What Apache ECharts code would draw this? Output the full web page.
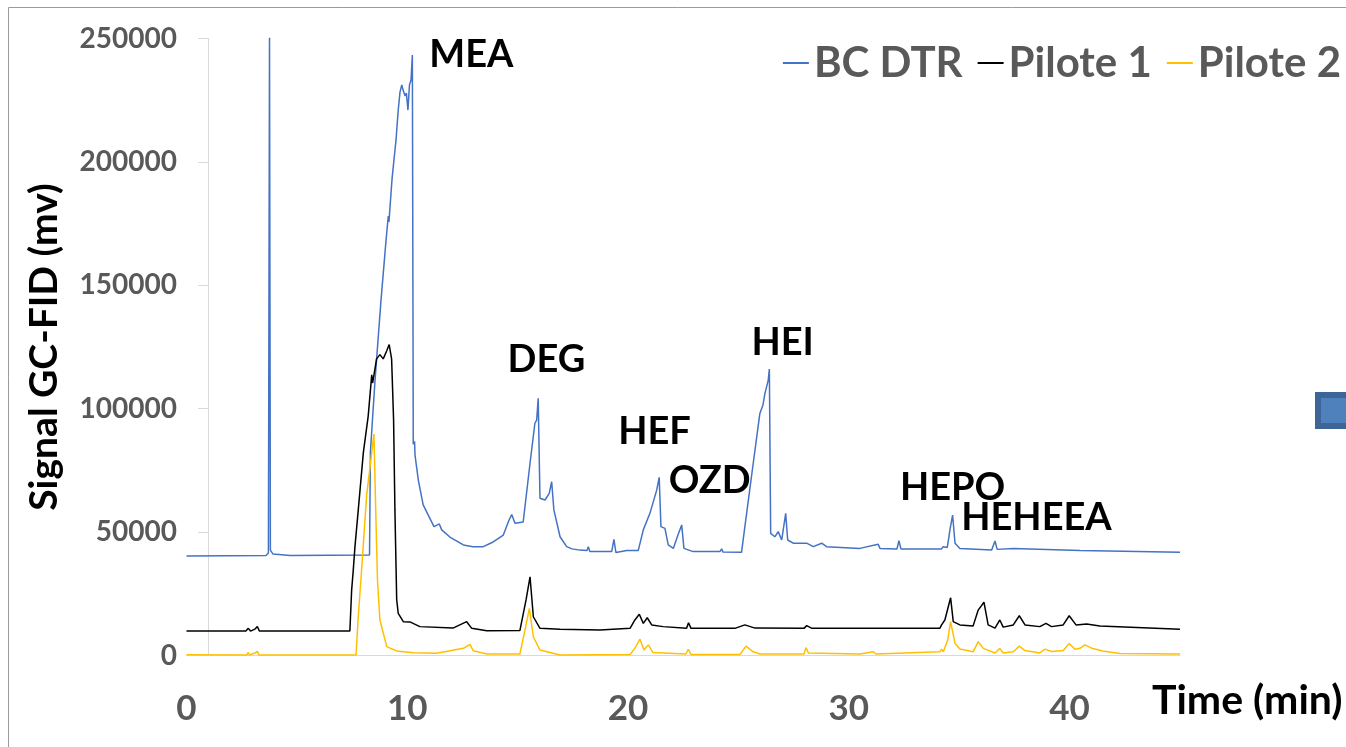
<!DOCTYPE html>
<html>
<head>
<meta charset="utf-8">
<title>GC-FID</title>
<script src="https://cdn.jsdelivr.net/npm/echarts@6/dist/echarts.min.js"></script>
<style>
  html, body { margin: 0; padding: 0; background: #fff; }
  #chart { width: 1346px; height: 747px; }
</style>
</head>
<body>
<div id="chart"></div>
<script>
// retention time (min) and signal (mv)
var bcTime = [0, 3.6, 3.71, 3.76, 3.8, 3.92, 4.69, 8.29, 8.33, 8.54, 8.81, 9.04, 9.14, 9.17, 9.31, 9.49, 9.59, 9.67, 9.75, 9.81, 9.9, 9.96, 10.03, 10.1, 10.17, 10.23, 10.26, 10.27, 10.33, 10.35, 10.5, 10.72, 10.95, 11.21, 11.45, 11.56, 11.93, 12.54, 12.98, 13.44, 13.89, 14.35, 14.61, 14.73, 14.88, 15.25, 15.56, 15.78, 15.86, 15.93, 15.99, 16.01, 16.24, 16.43, 16.54, 16.64, 16.92, 17.22, 17.46, 17.82, 18.14, 18.2, 18.27, 18.8, 19.26, 19.36, 19.45, 19.94, 20.46, 20.69, 20.99, 21.3, 21.41, 21.49, 21.67, 21.82, 22.05, 22.26, 22.43, 22.53, 22.95, 24.16, 24.24, 24.3, 25.14, 25.37, 25.67, 25.97, 26.11, 26.2, 26.35, 26.4, 26.46, 26.65, 26.8, 26.96, 27.14, 27.23, 27.48, 28.09, 28.39, 28.77, 28.99, 30.5, 31.33, 31.41, 32.18, 32.27, 32.36, 34.2, 34.27, 34.46, 34.58, 34.7, 34.81, 35.03, 36.47, 36.62, 36.72, 37.45, 40.47, 45];
var bcSignal = [40300, 40500, 41500, 251000, 42700, 41100, 40500, 40700, 82500, 111600, 144000, 168400, 178100, 175700, 193100, 208900, 221000, 228300, 231200, 229100, 226700, 227900, 221000, 231200, 233200, 243300, 131900, 85600, 86800, 81200, 71100, 61000, 56900, 52200, 53300, 50900, 48000, 44800, 44100, 44100, 46000, 48800, 54900, 57100, 53600, 54100, 77900, 94100, 95400, 104200, 103500, 63700, 63000, 65700, 70400, 59000, 48100, 44100, 43200, 42700, 42500, 44100, 42100, 42100, 42100, 47100, 41700, 42500, 42500, 50900, 57600, 67100, 72200, 52200, 51500, 44800, 43400, 48800, 52900, 43400, 42100, 42100, 43200, 41900, 41800, 57600, 77900, 98100, 101500, 106200, 111600, 116100, 49500, 48100, 50200, 46800, 57600, 46800, 45500, 45500, 44100, 45500, 44100, 43400, 45100, 43400, 43200, 46500, 43200, 43200, 44100, 43800, 50900, 56900, 45500, 43400, 42700, 46400, 43000, 43400, 42500, 41800];

var p1Time = [0, 2.69, 2.8, 2.9, 3.1, 3.21, 3.3, 7.4, 7.48, 7.55, 7.63, 7.78, 8.01, 8.23, 8.39, 8.43, 8.61, 8.76, 8.91, 9.07, 9.18, 9.29, 9.38, 9.44, 9.52, 9.59, 9.82, 10.12, 10.57, 12.07, 12.69, 12.77, 12.92, 13.6, 15.1, 15.38, 15.56, 15.71, 16.01, 16.92, 18.73, 20.09, 20.31, 20.51, 20.69, 20.87, 21.07, 21.59, 22.65, 22.74, 22.85, 24.84, 25.29, 25.75, 27.97, 28.09, 28.33, 30.5, 34.12, 34.2, 34.35, 34.61, 34.73, 35.03, 35.63, 35.86, 36.12, 36.31, 36.62, 36.84, 36.99, 37.45, 37.72, 37.98, 38.65, 38.93, 39.18, 39.71, 39.98, 40.29, 40.77, 41.37, 45];
var p1Signal = [9900, 9900, 11000, 9900, 10700, 11700, 9900, 9900, 26500, 34200, 44100, 59000, 82200, 97000, 113700, 110400, 120200, 121900, 120200, 123500, 126000, 120200, 95400, 59000, 22700, 17100, 13700, 13600, 11700, 11100, 13700, 14400, 11000, 10000, 10100, 22500, 31900, 15700, 11000, 10600, 10300, 11000, 14400, 16700, 13000, 15300, 12400, 11700, 11000, 13300, 11000, 11000, 12400, 11100, 11000, 12100, 11000, 11000, 11000, 12400, 14400, 23400, 13700, 12400, 12000, 18400, 21600, 12400, 11100, 14400, 11500, 12400, 16100, 12400, 11700, 13000, 11700, 12400, 16100, 12400, 12800, 12000, 10600];

var p2Time = [0, 2.72, 2.8, 2.85, 3.1, 3.21, 3.28, 7.68, 7.77, 7.93, 8.16, 8.39, 8.49, 8.57, 8.65, 8.76, 9.07, 9.52, 10.27, 11.33, 12.54, 12.84, 12.99, 13.6, 15.1, 15.33, 15.53, 15.71, 16.01, 16.92, 20.09, 20.31, 20.54, 20.72, 20.92, 21.13, 22.62, 22.73, 22.85, 25.07, 25.34, 25.67, 25.97, 27.97, 28.06, 28.17, 30.5, 31.11, 31.23, 34.12, 34.2, 34.28, 34.48, 34.61, 34.81, 35.03, 35.63, 35.86, 36.09, 36.62, 36.84, 36.99, 37.45, 37.72, 37.98, 38.65, 38.88, 39.18, 39.71, 39.98, 40.24, 40.47, 40.69, 41.05, 41.5, 42.28, 45];
var p2Signal = [300, 200, 1200, 200, 1000, 1700, 200, 200, 14400, 34600, 65000, 82200, 89700, 59000, 30600, 14400, 3600, 1800, 1100, 900, 2900, 4500, 1900, 600, 600, 10300, 19100, 7600, 2200, 200, 400, 3000, 6600, 2200, 4300, 1200, 600, 2500, 400, 400, 3800, 1500, 600, 600, 3200, 1000, 600, 1500, 600, 1500, 2600, 1500, 6300, 13700, 4900, 2600, 1500, 5600, 2900, 1000, 2900, 1000, 1500, 3800, 2000, 1000, 2600, 1600, 2000, 4900, 2500, 2900, 4300, 2800, 1800, 800, 600];

// peak annotations
var peakNames = ['MEA', 'DEG', 'HEF', 'OZD', 'HEI', 'HEPO', 'HEHEEA'];
var peakTimes = [12.9, 16.3, 21.2, 23.7, 27.0, 34.7, 38.5];
var peakSignals = [243300, 119700, 90500, 70700, 126600, 67900, 55700];

var xTicks = [0, 10, 20, 30, 40];

function pairs(xs, ys) {
  return xs.map(function (x, i) { return [x, ys[i]]; });
}

var chart = echarts.init(document.getElementById('chart'));
var font = 'Lato';

var option = {
  animation: false,
  backgroundColor: '#fff',
  color: ['#4472C4', '#000000', '#FFC000'],
  textStyle: { fontFamily: font },
  legend: {
    data: ['BC DTR', 'Pilote 1', 'Pilote 2'],
    right: 0,
    top: 37,
    icon: 'rect',
    itemWidth: 26,
    itemHeight: 2,
    itemGap: 15,
    textStyle: { fontFamily: font, fontSize: 42, fontWeight: 'bold', color: '#595959' }
  },
  grid: { left: 186.5, right: 166, top: 38.5, bottom: 91.5 },
  xAxis: {
    type: 'value',
    min: 0,
    max: 45,
    interval: 10,
    name: 'Time (min)',
    nameLocation: 'end',
    nameGap: -28,
    nameTextStyle: { fontFamily: font, fontSize: 41, fontWeight: 'bold', color: '#000', verticalAlign: 'top', padding: [25, 0, 0, 0] },
    splitLine: { show: false },
    axisTick: { show: false },
    axisLine: { lineStyle: { color: '#d9d9d9', width: 1 } },
    axisLabel: {
      customValues: xTicks,
      margin: 36,
      fontFamily: font, fontSize: 35, fontWeight: 'bold', color: '#595959'
    }
  },
  yAxis: {
    type: 'value',
    min: 0,
    max: 250000,
    interval: 50000,
    offset: -21.5,
    name: 'Signal GC-FID (mv)',
    nameLocation: 'middle',
    nameGap: 144,
    nameTextStyle: { fontFamily: font, fontSize: 39, fontWeight: 'bold', color: '#000' },
    splitLine: { show: false },
    axisLine: { show: true, lineStyle: { color: '#d9d9d9', width: 1 } },
    axisTick: { show: true, length: 10, lineStyle: { color: '#d9d9d9' } },
    axisLabel: {
      margin: 31, fontFamily: font, fontSize: 28, fontWeight: 'bold', color: '#595959',
      formatter: function (v) { return String(v); }
    }
  },
  series: [
    {
      name: 'BC DTR', type: 'line', symbol: 'none', data: pairs(bcTime, bcSignal),
      lineStyle: { width: 1.5 }
    },
    {
      name: 'Pilote 1', type: 'line', symbol: 'none', data: pairs(p1Time, p1Signal),
      lineStyle: { width: 1.5 }
    },
    {
      name: 'Pilote 2', type: 'line', symbol: 'none', data: pairs(p2Time, p2Signal),
      lineStyle: { width: 1.5 }
    },
    {
      name: 'peaks', type: 'scatter', symbolSize: 0, silent: true,
      itemStyle: { opacity: 1 },
      data: peakNames.map(function (n, i) { return { name: n, value: [peakTimes[i], peakSignals[i]] }; }),
      label: {
        show: true, position: 'inside', formatter: '{b}',
        fontFamily: font, fontSize: 38, fontWeight: 'bold', color: '#000000',
        textBorderWidth: 0
      }
    }
  ],
  graphic: [
    // outer frame of the figure
    { type: 'rect', shape: { x: 8.5, y: 7.5, width: 1400, height: 800 },
      style: { fill: 'none', stroke: '#9a9a9a', lineWidth: 1 }, silent: true },
    // stray marker at the right edge
    { type: 'rect', shape: { x: 1318, y: 395, width: 40, height: 31 },
      style: { fill: '#4F81BD', stroke: '#3D6597', lineWidth: 6 }, silent: true }
  ]
};

chart.setOption(option);
</script>
</body>
</html>
